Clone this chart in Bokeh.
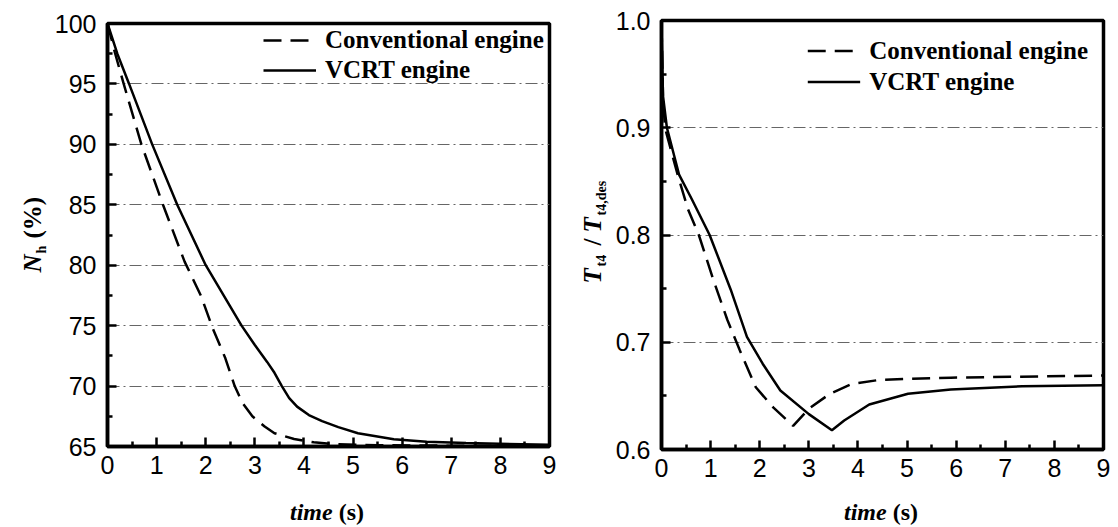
import math
from bokeh.plotting import figure
from bokeh.models import Range1d, FixedTicker, Legend, LegendItem, PrintfTickFormatter, Div
from bokeh.layouts import row, column
from bokeh.core.properties import value
from bokeh.embed import file_html
from bokeh.resources import INLINE

# ---------------- data ----------------
# Left panel: N_h (%) vs time (s)
time_conv_nh = [0, 0.15, 0.33, 0.69, 1.13, 1.57, 1.9, 2.15, 2.4, 2.59, 2.75, 2.95, 3.2, 3.4, 3.8, 4.2, 4.6, 5.5, 7.0, 9.0]
nh_conv = [100, 97.6, 95, 90, 85, 80.3, 77.5, 74.7, 72.3, 70, 68.6, 67.5, 66.65, 66.1, 65.62, 65.35, 65.2, 65.1, 65.07, 65.05]

time_vcrt_nh = [0, 0.2, 0.44, 0.91, 1.42, 2.0, 2.73, 3.0, 3.25, 3.4, 3.55, 3.7, 3.86, 4.1, 4.37, 4.7, 5.1, 5.83, 6.5, 7.3, 9.0]
nh_vcrt = [100, 97.5, 95, 90, 85, 80, 75, 73.4, 72.0, 71.1, 70, 69.0, 68.3, 67.6, 67.1, 66.6, 66.1, 65.6, 65.4, 65.28, 65.15]

# Right panel: T_t4 / T_t4,des vs time (s)
time_conv_t4 = [0, 0.03, 0.07, 0.33, 0.54, 0.76, 1.05, 1.34, 1.59, 1.92, 2.28, 2.68, 3.0, 3.43, 3.87, 4.45, 5.89, 9.0]
t4_conv = [0.997, 0.93, 0.9, 0.856, 0.824, 0.8, 0.759, 0.721, 0.693, 0.658, 0.639, 0.622, 0.638, 0.652, 0.661, 0.665, 0.667, 0.669]

time_vcrt_t4 = [0, 0.03, 0.11, 0.36, 0.61, 0.98, 1.41, 1.74, 2.06, 2.42, 3.0, 3.47, 3.72, 4.23, 5.02, 5.89, 7.34, 9.0]
t4_vcrt = [0.997, 0.93, 0.9, 0.856, 0.834, 0.8, 0.749, 0.705, 0.68, 0.655, 0.633, 0.618, 0.627, 0.642, 0.652, 0.656, 0.659, 0.66]

x_ticks = [0, 1, 2, 3, 4, 5, 6, 7, 8, 9]
x_minor = [0.5, 1.5, 2.5, 3.5, 4.5, 5.5, 6.5, 7.5, 8.5]
nh_ticks = [65, 70, 75, 80, 85, 90, 95, 100]
nh_minor = [67.5, 72.5, 77.5, 82.5, 87.5, 92.5, 97.5]
t4_ticks = [0.6, 0.7, 0.8, 0.9, 1.0]
t4_minor = [0.65, 0.75, 0.85, 0.95]
series_labels = ["Conventional engine", "VCRT engine"]

# ---------------- layout constants ----------------
SERIF = "Liberation Serif"
SANS = "Liberation Sans"
FRAME_W = 442
TOTAL_H = 526
YLAB1_W = 50
YLAB2_W = 54
BOTTOM_B = 50


def make_fig(yr, yt, ym, fh, bl, bt, br, bb):
    p = figure(frame_width=FRAME_W, frame_height=fh,
               min_border_left=bl, min_border_top=bt, min_border_right=br, min_border_bottom=bb,
               x_range=Range1d(0, 9), y_range=Range1d(*yr),
               output_backend="svg", toolbar_location=None)
    p.background_fill_color = "white"
    p.border_fill_color = "white"
    p.outline_line_color = "black"
    p.outline_line_width = 3.5
    p.xaxis.ticker = FixedTicker(ticks=x_ticks, minor_ticks=x_minor)
    p.yaxis.ticker = FixedTicker(ticks=yt, minor_ticks=ym)
    for ax in (p.xaxis, p.yaxis):
        ax.axis_line_width = 3.5
        ax.axis_line_color = "black"
        ax.major_tick_in = 9
        ax.major_tick_out = 0
        ax.minor_tick_in = 5
        ax.minor_tick_out = 0
        ax.major_tick_line_width = 2.5
        ax.minor_tick_line_width = 2.5
        ax.major_tick_line_color = "black"
        ax.minor_tick_line_color = "black"
        ax.major_label_text_font = SANS
        ax.major_label_text_font_size = "25px"
        ax.major_label_text_color = "black"
    p.xaxis.major_label_standoff = 9
    p.yaxis.major_label_standoff = 11
    p.xgrid.visible = False
    p.ygrid.ticker = FixedTicker(ticks=yt)
    p.ygrid.grid_line_color = "#666666"
    p.ygrid.grid_line_width = 1
    p.ygrid.grid_line_dash = "12 4 2 4"
    return p


def text_fig(w, h):
    f = figure(frame_width=w, frame_height=h, min_border=0,
               x_range=Range1d(0, w), y_range=Range1d(0, h),
               x_axis_type=None, y_axis_type=None,
               output_backend="svg", toolbar_location=None)
    f.outline_line_color = None
    f.background_fill_color = "white"
    f.border_fill_color = "white"
    f.xgrid.visible = False
    f.ygrid.visible = False
    return f


def put_text(f, h, lx, ly_top, txt, style, size, align="left", angle=0.0):
    # lx, ly_top: pixel position inside the text figure, measured from its top-left
    f.text(x=[lx], y=[h - ly_top], text=[txt], angle=angle,
           text_font=value(SERIF), text_font_style=style, text_font_size=size,
           text_color="black", text_align=align, text_baseline="alphabetic")


def xlabel_div(w, h, pad_left, pad_top):
    html = ('<div style="padding-left:%dpx;padding-top:%dpx;font-family:\'Liberation Serif\';'
            'font-size:24px;line-height:24px;color:#000;white-space:nowrap;">'
            '<span style="font-weight:bold;font-style:italic;">time</span>'
            '<span style="font-weight:bold;"> (s)</span></div>') % (pad_left, pad_top)
    return Div(text=html, width=w, height=h, margin=0)


def add_lines(p, tc, yc, tv, yv):
    r1 = p.line(tc, yc, line_color="black", line_width=2.5, line_dash="18 9")
    r2 = p.line(tv, yv, line_color="black", line_width=2.5)
    return r1, r2


def style_legend(p, items, margin, padding, lw, lh):
    leg = Legend(items=items, location="top_right")
    leg.border_line_alpha = 0
    leg.background_fill_alpha = 0
    leg.margin = margin
    leg.padding = padding
    leg.spacing = 0
    leg.glyph_width = 53
    leg.glyph_height = lh
    leg.label_height = lh
    leg.label_width = lw
    leg.label_standoff = 9
    leg.label_text_font = SERIF
    leg.label_text_font_style = "bold"
    leg.label_text_font_size = "25px"
    leg.label_text_color = "black"
    p.add_layout(leg)


# ---------------- left panel ----------------
# frame: page x 107..549, y 23..446
P1_R = 8
p1 = make_fig((65, 100), nh_ticks, nh_minor, 423, 107 - YLAB1_W, 23, P1_R, BOTTOM_B)
c1, v1 = add_lines(p1, time_conv_nh, nh_conv, time_vcrt_nh, nh_vcrt)
style_legend(p1, [LegendItem(label=series_labels[0], renderers=[c1]),
                  LegendItem(label=series_labels[1], renderers=[v1])], 0, 2, 222, 30)
P1_W = (107 - YLAB1_W) + FRAME_W + P1_R
P1_H = 23 + 423 + BOTTOM_B

ylab1 = text_fig(YLAB1_W, TOTAL_H)
put_text(ylab1, TOTAL_H, 32, 272, "N", "bold italic", "25px", angle=math.pi / 2)
put_text(ylab1, TOTAL_H, 41, 253, "h", "bold", "14px", angle=math.pi / 2)
put_text(ylab1, TOTAL_H, 32, 238, "(%)", "bold", "25px", angle=math.pi / 2)

xlab1 = xlabel_div(P1_W, TOTAL_H - P1_H, 290 - YLAB1_W, 500 - P1_H)

# ---------------- right panel ----------------
# frame: page x 661..1103, y 20..449
x2_lab = YLAB1_W + P1_W            # page x where the second label strip starts
x2_org = x2_lab + YLAB2_W          # page x where the right figure starts
P2_R = 12
p2 = make_fig((0.6, 1.0), t4_ticks, t4_minor, 429, 661 - x2_org, 20, P2_R, BOTTOM_B)
p2.yaxis.formatter = PrintfTickFormatter(format="%.1f")
c2, v2 = add_lines(p2, time_conv_t4, t4_conv, time_vcrt_t4, t4_vcrt)
style_legend(p2, [LegendItem(label=series_labels[0], renderers=[c2]),
                  LegendItem(label=series_labels[1], renderers=[v2])], 12, 3, 20, 31)
P2_W = (661 - x2_org) + FRAME_W + P2_R
P2_H = 20 + 429 + BOTTOM_B

ylab2 = text_fig(YLAB2_W, TOTAL_H)
put_text(ylab2, TOTAL_H, 592 - x2_lab, 283, "T", "bold italic", "25px", angle=math.pi / 2)
put_text(ylab2, TOTAL_H, 601 - x2_lab, 266, "t4", "bold", "14px", angle=math.pi / 2)
put_text(ylab2, TOTAL_H, 592 - x2_lab, 245, "/", "bold", "25px", angle=math.pi / 2)
put_text(ylab2, TOTAL_H, 592 - x2_lab, 232, "T", "bold italic", "25px", angle=math.pi / 2)
put_text(ylab2, TOTAL_H, 601 - x2_lab, 215, "t4,des", "bold", "14px", angle=math.pi / 2)

xlab2 = xlabel_div(P2_W, TOTAL_H - P2_H, 844 - x2_org, 500 - P2_H)

layout = row(ylab1, column(p1, xlab1), ylab2, column(p2, xlab2))
open("out.html", "w").write(file_html(layout, INLINE))
